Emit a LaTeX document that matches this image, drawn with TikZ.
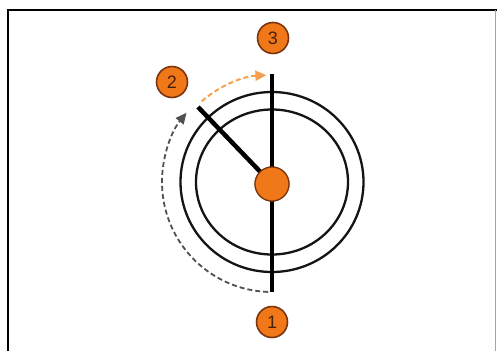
\documentclass[tikz,border=0pt]{standalone}
\usepackage{fontspec}
\setmainfont{Liberation Sans}
\usetikzlibrary{arrows.meta,calc}
\definecolor{org}{HTML}{F07818}
\definecolor{orgdark}{HTML}{7A3510}
\definecolor{orglight}{HTML}{F5A050}
\definecolor{dgrey}{HTML}{505050}
\begin{document}
\begin{tikzpicture}[x=1pt,y=-1pt,
  lbl/.style={circle,fill=org,draw=orgdark,line width=1.6pt,minimum size=31pt,inner sep=0pt,
    font=\fontsize{18}{18}\selectfont,text=orgdark!60!black},
  ring/.style={line width=2.3pt,black!92},
  bar/.style={line width=4.5pt,black},
  hubstyle/.style={circle,fill=org,draw=orgdark,line width=1.2pt,minimum size=34pt,inner sep=0pt}]
\useasboundingbox (0,0) rectangle (497,351);
\fill[white] (0,0) rectangle (497,351);
% frame
\draw[line width=2.5pt] (8,351) -- (8,10) -- (497,10);
\draw[line width=1pt,black!35] (495,10) -- (495,351);
% rings
\coordinate (c) at (272,182);
\draw[ring] (c) ellipse [x radius=91.5, y radius=90];
\draw[ring] (c) ellipse [x radius=76, y radius=72.5];
% hands
\coordinate (top) at (272,74);
\coordinate (bot) at (272,292);
\coordinate (tip) at (198,107);
\node[hubstyle] (hub) at (272,184) {};
\draw[bar] (top) -- (bot);
\draw[bar] (hub.center) -- (tip);
\node[hubstyle] at (hub.center) {};
% motion arcs
\coordinate (gs) at ($(c)+(92:110)$);
\draw[dgrey,line width=1.8pt,dash pattern=on 5pt off 3pt,-{Triangle[length=11pt,width=10pt]}]
  (gs) arc[start angle=92,end angle=219,radius=110];
\coordinate (os) at ($(c)+(229:107)$);
\draw[orglight,line width=2pt,dash pattern=on 5pt off 3pt,-{Triangle[length=11pt,width=10pt]}]
  (os) arc[start angle=229,end angle=267,radius=107];
% labels
\node[lbl] (l3) at (273,38) {3};
\node[lbl] (l2) at (172,82) {2};
\node[lbl] (l1) at (272,322) {1};
\end{tikzpicture}
\end{document}
